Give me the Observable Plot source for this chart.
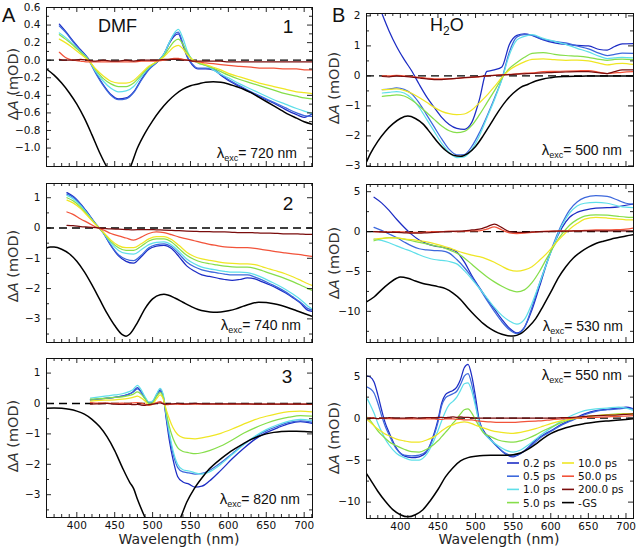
<!DOCTYPE html>
<html><head><meta charset="utf-8">
<script src="https://cdn.jsdelivr.net/npm/d3@7"></script>
<script src="https://cdn.jsdelivr.net/npm/@observablehq/plot@0.6"></script>
<style>
html,body{margin:0;padding:0;background:#fff;}
#fig{position:relative;width:637px;height:552px;overflow:hidden;background:#fff;}
.pw{position:absolute;}
#ann{position:absolute;left:0;top:0;pointer-events:none;}
</style></head><body><div id="fig"></div>
<script>
// ---------- series & styles ----------
const SERIES = ["0.2 ps","0.5 ps","1.0 ps","5.0 ps","10.0 ps","50.0 ps","200.0 ps","-GS"];
const COLORS = ["#1c2cc4","#3d68dc","#5fdfe9","#86de4a","#efe624","#f2533a","#7a0c0c","#000000"];
const X_MAJOR = [400,450,500,550,600,650,700];
const X_MINOR = [360,370,380,390,410,420,430,440,460,470,480,490,510,520,530,540,560,570,580,590,610,620,630,640,660,670,680,690,710];

// ---------- Panel A1 (DMF, 1, 720 nm) ----------
const A1_nm = [377,385,395,405,415,425,435,445,455,465,475,485,495,505,515,522,528,534,540,546,552,560,570,580,590,600,615,630,645,660,675,690,700,711];
const A1_t02 = [0.41,0.33,0.22,0.12,0.02,-0.14,-0.28,-0.39,-0.44,-0.43,-0.36,-0.22,-0.10,-0.03,0.07,0.19,0.27,0.30,0.17,0.03,-0.05,-0.10,-0.10,-0.11,-0.17,-0.23,-0.30,-0.37,-0.43,-0.49,-0.56,-0.62,-0.65,-0.61];
const A1_t05 = [0.39,0.32,0.21,0.11,0.01,-0.15,-0.29,-0.40,-0.45,-0.44,-0.37,-0.23,-0.11,-0.03,0.07,0.20,0.29,0.32,0.19,0.04,-0.04,-0.09,-0.09,-0.10,-0.16,-0.22,-0.29,-0.36,-0.42,-0.48,-0.54,-0.60,-0.63,-0.64];
const A1_t1 = [0.31,0.26,0.18,0.10,0.01,-0.13,-0.24,-0.32,-0.36,-0.35,-0.30,-0.19,-0.09,-0.02,0.07,0.20,0.30,0.35,0.25,0.10,0.01,-0.03,-0.06,-0.11,-0.16,-0.20,-0.27,-0.33,-0.39,-0.45,-0.50,-0.55,-0.58,-0.61];
const A1_t5 = [0.29,0.24,0.17,0.09,0.01,-0.11,-0.21,-0.27,-0.30,-0.30,-0.26,-0.17,-0.08,-0.02,0.05,0.14,0.21,0.24,0.18,0.08,0.01,-0.03,-0.06,-0.09,-0.13,-0.17,-0.22,-0.26,-0.30,-0.34,-0.38,-0.41,-0.43,-0.44];
const A1_t10 = [0.24,0.20,0.14,0.07,0.00,-0.10,-0.18,-0.24,-0.26,-0.26,-0.23,-0.15,-0.07,-0.02,0.04,0.10,0.15,0.17,0.13,0.06,0.01,-0.02,-0.05,-0.08,-0.11,-0.15,-0.19,-0.23,-0.27,-0.30,-0.33,-0.36,-0.37,-0.38];
const A1_t50 = [0.09,0.03,0.00,-0.01,-0.02,-0.02,-0.02,-0.02,-0.02,-0.02,-0.02,-0.01,-0.01,-0.01,0.00,0.01,0.02,0.02,0.01,0.00,-0.01,-0.02,-0.03,-0.04,-0.05,-0.06,-0.07,-0.08,-0.09,-0.09,-0.10,-0.10,-0.11,-0.11];
const A1_t200 = [0.01,0.00,0.00,0.01,0.00,-0.01,0.00,-0.01,-0.01,0.00,-0.01,0.00,0.00,0.00,0.01,0.01,0.01,0.01,0.00,0.00,-0.01,-0.01,-0.01,-0.01,-0.01,-0.02,-0.02,-0.02,-0.02,-0.02,-0.02,-0.02,-0.02,-0.02];
const A1_gsNm = [360,370,380,390,400,410,420,430,440,450,460,470,480,490,500,510,520,530,540,550,560,570,580,590,600,610,620,630,640,650,660,670,680,690,700,711];
const A1_gs = [-0.10,-0.17,-0.26,-0.37,-0.50,-0.66,-0.85,-1.05,-1.22,-1.33,-1.35,-1.23,-1.00,-0.83,-0.69,-0.57,-0.47,-0.39,-0.33,-0.29,-0.27,-0.25,-0.245,-0.25,-0.27,-0.30,-0.33,-0.37,-0.42,-0.47,-0.52,-0.57,-0.62,-0.66,-0.70,-0.73];

// ---------- Panel A2 (2, 740 nm) ----------
const A2_nm = [387,395,405,415,425,435,445,455,465,475,485,495,505,515,525,535,545,555,565,575,585,595,605,615,625,635,645,655,665,675,685,695,705,711];
const A2_t02 = [1.17,1.05,0.80,0.48,0.14,-0.16,-0.58,-0.92,-1.10,-1.16,-0.95,-0.70,-0.60,-0.57,-0.68,-0.95,-1.25,-1.42,-1.55,-1.60,-1.65,-1.70,-1.73,-1.70,-1.65,-1.68,-1.78,-1.88,-2.00,-2.14,-2.30,-2.48,-2.72,-2.75];
const A2_t05 = [1.12,1.02,0.78,0.46,0.13,-0.17,-0.57,-0.88,-1.03,-1.08,-0.90,-0.65,-0.55,-0.52,-0.62,-0.86,-1.12,-1.28,-1.38,-1.44,-1.48,-1.52,-1.55,-1.55,-1.55,-1.62,-1.72,-1.84,-1.96,-2.10,-2.27,-2.45,-2.66,-2.70];
const A2_t1 = [1.08,0.97,0.74,0.44,0.12,-0.16,-0.50,-0.74,-0.84,-0.86,-0.72,-0.55,-0.47,-0.46,-0.56,-0.78,-1.02,-1.18,-1.29,-1.35,-1.39,-1.43,-1.46,-1.46,-1.47,-1.54,-1.64,-1.76,-1.88,-2.02,-2.18,-2.36,-2.58,-2.68];
const A2_t5 = [1.00,0.90,0.69,0.41,0.12,-0.15,-0.45,-0.65,-0.74,-0.74,-0.60,-0.43,-0.36,-0.36,-0.46,-0.68,-0.90,-1.04,-1.13,-1.18,-1.22,-1.26,-1.28,-1.29,-1.29,-1.33,-1.41,-1.50,-1.58,-1.67,-1.77,-1.88,-2.00,-2.06];
const A2_t10 = [0.92,0.83,0.64,0.38,0.11,-0.14,-0.40,-0.58,-0.65,-0.65,-0.52,-0.36,-0.28,-0.28,-0.38,-0.58,-0.80,-0.94,-1.02,-1.07,-1.11,-1.15,-1.17,-1.18,-1.18,-1.21,-1.28,-1.36,-1.43,-1.51,-1.61,-1.72,-1.84,-1.90];
const A2_t50 = [0.53,0.45,0.30,0.17,0.03,-0.06,-0.18,-0.26,-0.33,-0.40,-0.30,-0.18,-0.13,-0.15,-0.22,-0.30,-0.36,-0.42,-0.48,-0.54,-0.58,-0.62,-0.64,-0.65,-0.65,-0.67,-0.71,-0.75,-0.79,-0.82,-0.85,-0.88,-0.92,-0.94];
const A2_t200 = [0.09,0.08,0.05,0.03,0.01,-0.01,-0.03,-0.04,-0.05,-0.06,-0.05,-0.05,-0.06,-0.07,-0.08,-0.09,-0.10,-0.11,-0.12,-0.12,-0.13,-0.13,-0.14,-0.15,-0.15,-0.16,-0.17,-0.17,-0.18,-0.19,-0.19,-0.20,-0.21,-0.21];
const A2_gsNm = [360,365,370,380,390,400,410,420,430,440,450,460,465,470,480,490,500,510,515,520,530,540,550,560,570,580,590,600,610,620,630,640,650,660,670,680,690,700,711];
const A2_gs = [-0.66,-0.63,-0.63,-0.70,-0.85,-1.10,-1.45,-1.88,-2.35,-2.82,-3.22,-3.52,-3.57,-3.50,-3.12,-2.66,-2.34,-2.20,-2.19,-2.21,-2.32,-2.45,-2.58,-2.69,-2.75,-2.78,-2.77,-2.73,-2.67,-2.58,-2.50,-2.45,-2.46,-2.50,-2.56,-2.64,-2.73,-2.82,-2.92];

// ---------- Panel A3 (3, 820 nm) ----------
const A3_nm = [418,430,440,450,460,468,474,480,485,490,495,500,505,510,514,518,522,527,533,540,548,556,565,575,590,605,620,635,650,665,680,695,711];
const A3_t02 = [0.12,0.15,0.18,0.20,0.24,0.30,0.38,0.52,0.38,0.18,0.02,0.05,0.28,0.45,0.25,-0.50,-1.20,-1.85,-2.40,-2.58,-2.65,-2.75,-2.72,-2.55,-2.20,-1.82,-1.48,-1.18,-0.96,-0.80,-0.66,-0.60,-0.66];
const A3_t05 = [0.12,0.15,0.18,0.20,0.24,0.30,0.37,0.48,0.36,0.18,0.03,0.06,0.26,0.40,0.22,-0.45,-1.05,-1.65,-2.10,-2.25,-2.28,-2.32,-2.30,-2.20,-1.95,-1.65,-1.35,-1.10,-0.90,-0.75,-0.62,-0.57,-0.62];
const A3_t1 = [0.18,0.22,0.25,0.28,0.32,0.38,0.45,0.60,0.45,0.22,0.05,0.08,0.30,0.50,0.30,-0.35,-0.95,-1.55,-2.00,-2.18,-2.22,-2.28,-2.32,-2.25,-2.00,-1.68,-1.36,-1.08,-0.86,-0.70,-0.58,-0.52,-0.56];
const A3_t5 = [0.14,0.16,0.18,0.20,0.22,0.26,0.30,0.38,0.30,0.15,0.00,0.02,0.22,0.36,0.20,-0.30,-0.75,-1.15,-1.45,-1.58,-1.62,-1.65,-1.62,-1.55,-1.40,-1.20,-0.98,-0.80,-0.65,-0.53,-0.45,-0.40,-0.42];
const A3_t10 = [0.08,0.10,0.11,0.12,0.14,0.17,0.20,0.24,0.18,0.08,-0.05,-0.02,0.15,0.28,0.15,-0.20,-0.50,-0.80,-1.02,-1.12,-1.15,-1.16,-1.13,-1.08,-0.98,-0.84,-0.68,-0.53,-0.42,-0.33,-0.27,-0.25,-0.28];
const A3_t50 = [0.03,0.01,0.01,0.00,0.01,0.00,0.02,0.03,0.01,-0.02,-0.05,-0.03,0.02,0.06,0.00,-0.04,-0.03,-0.02,-0.02,-0.03,-0.02,-0.02,-0.02,-0.02,-0.02,-0.02,-0.02,-0.02,-0.02,-0.02,-0.02,-0.02,-0.02];
const A3_t200 = [-0.02,-0.01,0.00,-0.02,-0.03,-0.02,-0.04,-0.03,-0.05,-0.06,-0.04,-0.02,0.00,0.02,-0.01,-0.02,-0.01,-0.01,0.00,-0.01,-0.01,0.00,-0.01,-0.01,-0.01,-0.01,-0.01,-0.02,-0.02,-0.02,-0.02,-0.02,-0.02];
const A3_gsNm = [360,370,380,390,400,410,420,430,440,450,460,470,475,480,490,500,510,520,530,537,545,555,565,575,590,600,610,620,630,640,650,660,670,680,690,700,711];
const A3_gs = [-0.16,-0.15,-0.16,-0.19,-0.25,-0.35,-0.52,-0.76,-1.10,-1.55,-2.10,-2.60,-2.80,-3.15,-3.75,-4.30,-4.60,-4.50,-4.10,-3.75,-3.25,-2.80,-2.45,-2.15,-1.82,-1.63,-1.47,-1.32,-1.18,-1.08,-1.00,-0.95,-0.92,-0.91,-0.91,-0.92,-0.94];

// ---------- Panel B1 (H2O, 500 nm) ----------
const B1_nm = [376,385,395,405,415,425,435,445,455,465,475,485,495,505,515,525,535,545,555,565,575,590,605,620,635,650,665,675,685,695,710];
const B1_t02 = [2.05,1.50,0.98,0.55,0.17,-0.28,-0.70,-1.05,-1.38,-1.62,-1.75,-1.78,-1.55,-0.80,0.15,0.20,0.30,1.05,1.35,1.40,1.35,1.20,1.10,1.05,1.02,1.00,0.88,0.86,0.98,1.07,1.08];
const B1_t05 = [-0.46,-0.44,-0.40,-0.45,-0.60,-0.90,-1.30,-1.70,-2.10,-2.45,-2.63,-2.62,-2.35,-1.90,-1.35,-0.75,-0.10,0.80,1.30,1.38,1.36,1.22,1.15,1.10,1.00,0.90,0.75,0.68,0.72,0.76,0.75];
const B1_t1 = [-0.57,-0.55,-0.52,-0.57,-0.75,-1.05,-1.45,-1.85,-2.25,-2.55,-2.72,-2.70,-2.45,-2.00,-1.40,-0.80,-0.12,0.70,1.20,1.32,1.38,1.25,1.15,1.05,0.92,0.80,0.65,0.58,0.60,0.62,0.60];
const B1_t5 = [-0.68,-0.66,-0.63,-0.67,-0.80,-1.00,-1.22,-1.45,-1.67,-1.83,-1.89,-1.85,-1.65,-1.30,-0.90,-0.50,-0.08,0.25,0.45,0.62,0.75,0.78,0.72,0.68,0.66,0.62,0.55,0.52,0.55,0.56,0.54];
const B1_t10 = [-0.46,-0.45,-0.43,-0.48,-0.58,-0.72,-0.88,-1.05,-1.18,-1.26,-1.29,-1.27,-1.14,-0.90,-0.65,-0.36,-0.05,0.20,0.35,0.47,0.55,0.57,0.54,0.52,0.53,0.50,0.42,0.37,0.40,0.42,0.38];
const B1_t50 = [0.00,0.00,0.02,0.00,-0.02,-0.05,-0.08,-0.10,-0.10,-0.10,-0.08,-0.06,-0.05,-0.03,0.00,0.02,0.04,0.05,0.07,0.09,0.10,0.14,0.15,0.16,0.17,0.18,0.12,0.08,0.10,0.12,0.14];
const B1_t200 = [-0.02,-0.03,0.00,-0.02,-0.04,-0.07,-0.10,-0.12,-0.12,-0.10,-0.08,-0.06,-0.04,-0.02,0.00,0.02,0.03,0.04,0.06,0.07,0.08,0.10,0.12,0.13,0.14,0.14,0.10,0.08,0.14,0.20,0.20];
const B1_gsNm = [355,360,370,380,390,400,410,420,430,440,450,460,470,480,490,500,510,520,530,540,550,560,570,580,590,600,610,620,640,660,680,700,710];
const B1_gs = [-2.87,-2.60,-2.18,-1.85,-1.60,-1.42,-1.34,-1.42,-1.60,-1.90,-2.22,-2.48,-2.64,-2.68,-2.58,-2.35,-2.00,-1.60,-1.20,-0.85,-0.58,-0.38,-0.28,-0.17,-0.10,-0.06,-0.03,-0.02,-0.01,0.00,0.00,0.00,0.00];

// ---------- Panel B2 (530 nm) ----------
const B2_nm = [365,375,385,395,405,415,425,435,445,455,465,475,485,495,505,515,525,535,545,555,565,575,585,595,605,615,625,635,645,660,675,690,700,710];
const B2_t02 = [4.30,3.60,2.65,1.55,0.55,-0.35,-1.05,-1.50,-1.78,-1.95,-2.15,-2.55,-3.80,-5.50,-7.00,-8.40,-9.70,-11.0,-12.1,-12.7,-12.0,-9.80,-6.90,-3.90,-1.40,0.50,1.80,2.40,2.70,2.95,3.00,3.10,3.30,3.45];
const B2_t05 = [0.52,0.15,-0.30,-0.75,-1.30,-1.80,-2.15,-2.30,-2.38,-2.42,-2.70,-3.50,-4.50,-5.70,-7.10,-8.60,-10.0,-11.3,-12.3,-12.8,-12.0,-9.50,-6.50,-3.80,-1.20,1.00,2.70,3.70,4.25,4.50,4.40,3.90,3.55,3.45];
const B2_t1 = [-0.94,-1.10,-1.40,-1.80,-2.15,-2.50,-2.90,-3.25,-3.50,-3.62,-3.75,-4.05,-4.90,-5.95,-7.10,-8.30,-9.50,-10.5,-11.2,-11.6,-11.0,-9.00,-6.50,-3.90,-1.40,0.80,2.30,3.20,3.55,3.65,3.55,3.20,3.05,3.00];
const B2_t5 = [-1.15,-0.90,-0.75,-0.80,-0.95,-1.15,-1.35,-1.55,-1.75,-1.95,-2.30,-2.70,-3.30,-4.10,-4.90,-5.65,-6.30,-6.85,-7.30,-7.55,-7.30,-6.40,-5.00,-3.30,-1.70,-0.30,0.80,1.50,1.95,2.10,2.05,1.90,1.82,1.78];
const B2_t10 = [-0.94,-0.85,-0.78,-0.80,-0.90,-1.02,-1.15,-1.30,-1.50,-1.75,-2.05,-2.40,-2.70,-2.95,-3.15,-3.45,-3.85,-4.35,-4.80,-4.95,-4.80,-4.40,-3.60,-2.70,-1.60,-0.60,0.30,1.00,1.55,1.78,1.70,1.55,1.48,1.45];
const B2_t50 = [0.00,-0.05,-0.05,0.00,-0.05,-0.10,-0.10,-0.05,0.00,0.00,0.05,0.00,0.05,0.10,0.10,0.30,0.60,0.20,-0.15,-0.25,-0.20,-0.10,0.00,0.05,0.05,0.10,0.10,0.10,0.15,0.20,0.20,0.25,0.30,0.45];
const B2_t200 = [0.00,-0.05,-0.10,-0.10,-0.15,-0.20,-0.20,-0.15,-0.10,-0.05,0.00,0.05,0.10,0.20,0.30,0.60,0.95,0.50,0.00,-0.10,-0.10,-0.05,0.00,0.00,0.05,0.05,0.05,0.10,0.10,0.10,0.10,0.10,0.10,0.10];
const B2_gsNm = [355,365,375,385,395,400,410,420,430,440,450,460,470,480,490,500,510,520,530,540,550,560,570,580,590,600,610,620,630,640,650,660,670,680,690,700,710];
const B2_gs = [-8.80,-8.20,-7.30,-6.50,-5.85,-5.70,-5.85,-6.20,-6.50,-6.70,-6.90,-7.15,-7.70,-8.50,-9.60,-10.6,-11.5,-12.2,-12.7,-13.0,-13.1,-12.8,-12.0,-10.9,-9.30,-7.60,-5.80,-4.40,-3.30,-2.55,-1.95,-1.50,-1.20,-0.95,-0.75,-0.55,-0.40];

// ---------- Panel B3 (550 nm) ----------
const B3_nm = [356,360,365,370,375,380,385,395,405,415,425,435,445,450,455,460,465,470,475,480,485,490,495,500,505,510,520,530,540,550,560,570,580,590,600,615,630,645,660,675,690,700,710];
const B3_t02 = [5.0,4.9,4.3,2.8,1.0,-0.6,-1.7,-3.6,-4.5,-4.7,-4.6,-4.0,-1.8,-0.2,1.8,2.8,3.1,3.3,3.7,4.6,6.0,6.4,5.0,2.5,-0.3,-1.4,-2.5,-3.5,-4.3,-4.6,-4.2,-3.5,-2.6,-2.0,-1.5,-0.7,-0.1,0.5,0.9,1.05,1.2,1.3,1.1];
const B3_t05 = [3.7,3.5,3.0,1.8,0.3,-1.0,-2.0,-3.7,-4.4,-4.5,-4.4,-3.9,-2.0,-0.5,1.5,2.4,2.7,2.9,3.2,4.0,5.0,5.3,4.0,1.8,-0.6,-1.6,-2.6,-3.5,-4.2,-4.5,-4.2,-3.6,-2.8,-2.1,-1.6,-0.8,-0.2,0.4,0.8,1.0,1.1,1.2,1.1];
const B3_t1 = [2.3,1.6,0.6,-0.6,-1.6,-2.5,-3.2,-4.2,-4.7,-5.0,-5.0,-4.3,-2.6,-1.5,-0.3,0.8,1.6,2.0,2.5,3.3,4.1,4.2,3.2,1.4,-0.6,-1.6,-2.6,-3.3,-3.8,-4.05,-3.8,-3.2,-2.5,-1.8,-1.2,-0.3,0.4,0.9,1.1,1.2,1.3,1.2,0.9];
const B3_t5 = [0.1,-0.3,-0.9,-1.5,-2.0,-2.4,-2.8,-3.3,-3.7,-4.0,-4.05,-3.7,-3.1,-2.7,-2.2,-1.7,-1.2,-0.6,-0.1,0.5,1.0,1.1,0.6,-0.2,-1.0,-1.7,-2.2,-2.6,-2.8,-2.86,-2.7,-2.4,-2.0,-1.5,-1.1,-0.5,-0.1,0.15,0.3,0.4,0.5,0.55,0.5];
const B3_t10 = [-0.2,-0.5,-0.9,-1.3,-1.6,-1.9,-2.1,-2.5,-2.7,-2.85,-2.85,-2.6,-2.2,-1.9,-1.5,-1.2,-0.95,-0.8,-0.6,-0.5,-0.45,-0.5,-0.65,-0.85,-1.0,-1.15,-1.45,-1.65,-1.75,-1.8,-1.7,-1.5,-1.25,-0.95,-0.65,-0.3,-0.05,0.15,0.3,0.4,0.45,0.5,0.5];
const B3_t50 = [0.0,0.05,0.0,-0.05,0.0,-0.05,-0.05,-0.1,-0.1,-0.1,-0.1,-0.1,-0.1,-0.15,-0.15,-0.1,-0.1,-0.1,-0.15,-0.15,-0.2,-0.2,-0.2,-0.3,-0.35,-0.4,-0.45,-0.5,-0.5,-0.5,-0.45,-0.4,-0.35,-0.3,-0.2,-0.1,0.0,0.05,0.1,0.15,0.2,0.25,0.3];
const B3_t200 = [-0.1,-0.05,0.0,-0.05,0.0,0.0,0.05,0.0,0.0,0.05,0.0,0.05,0.05,0.1,0.1,0.05,0.1,0.15,0.1,0.15,0.1,0.1,0.05,0.0,0.0,0.0,0.0,0.0,0.0,0.0,0.0,0.0,0.0,0.0,0.0,0.05,0.1,0.2,0.3,0.35,0.4,0.45,0.5];
const B3_gsNm = [355,360,370,380,390,400,410,420,430,440,450,460,470,480,490,500,510,520,530,540,550,560,570,580,590,600,610,620,630,645,660,680,700,710];
const B3_gs = [-6.6,-7.3,-8.7,-9.9,-10.9,-11.5,-11.75,-11.5,-10.9,-9.8,-8.5,-7.0,-5.9,-5.1,-4.7,-4.55,-4.45,-4.42,-4.42,-4.42,-4.35,-4.15,-3.7,-3.1,-2.4,-1.85,-1.45,-1.15,-0.9,-0.65,-0.45,-0.3,-0.15,-0.08];

// ---------- y tick labels ----------
const A1_yMajor = [-1.0,-0.8,-0.6,-0.4,-0.2,0.0,0.2,0.4,0.6];
const A1_yMinor = [-1.1,-0.9,-0.7,-0.5,-0.3,-0.1,0.1,0.3,0.5];
const A23_yMajor = [-3,-2,-1,0,1];
const A23_yMinor = [-3.5,-2.5,-1.5,-0.5,0.5];
const B1_yMajor = [-3,-2,-1,0,1,2];
const B1_yMinor = [-2.5,-1.5,-0.5,0.5,1.5];
const B23_yMajor = [-10,-5,0,5];
const B23_yMinor = [-12.5,-7.5,-2.5,2.5];

const fig = document.getElementById("fig");

function panel(cfg) {
  const {left, top, width, ml, mr, mt, fh, mb, xDomain, yDomain, yMajor, yMinor, yFmt, lines, bottom} = cfg;
  const fw = width - ml - mr;
  const inY = v => v >= Math.min(...yDomain) - 1e-9 && v <= Math.max(...yDomain) + 1e-9;
  const marks = [];
  marks.push(Plot.ruleY([0], {stroke: "#000", strokeWidth: 1.3, strokeDasharray: "8,5"}));
  lines.forEach(([nm, vals], i) => {
    const rows = nm.map((w, j) => ({w, v: vals[j]}));
    marks.push(Plot.line(rows, {x: "w", y: "v", stroke: COLORS[i], strokeWidth: i === 7 ? 1.5 : 1.25, curve: "monotone-x", clip: true}));
  });
  marks.push(Plot.frame({stroke: "#111", strokeWidth: 1}));
  const xmi = X_MINOR.filter(v => v >= xDomain[0] && v <= xDomain[1]);
  marks.push(Plot.tickX(xmi, {x: d => d, insetTop: fh - 3, strokeWidth: 0.9}));
  marks.push(Plot.tickX(X_MAJOR, {x: d => d, insetTop: fh - 5, strokeWidth: 0.9}));
  marks.push(Plot.tickX(xmi, {x: d => d, insetBottom: fh - 3, strokeWidth: 0.9}));
  marks.push(Plot.tickX(X_MAJOR, {x: d => d, insetBottom: fh - 5, strokeWidth: 0.9}));
  const ymj = yMajor.filter(inY), ymn = yMinor.filter(inY);
  marks.push(Plot.tickY(ymj, {y: d => d, insetRight: fw - 5, strokeWidth: 0.9}));
  marks.push(Plot.tickY(ymn, {y: d => d, insetRight: fw - 3, strokeWidth: 0.9}));
  marks.push(Plot.tickY(ymj, {y: d => d, insetLeft: fw - 5, strokeWidth: 0.9}));
  marks.push(Plot.tickY(ymn, {y: d => d, insetLeft: fw - 3, strokeWidth: 0.9}));
  marks.push(Plot.axisY(ymj, {anchor: "left", tickSize: 0, tickPadding: 6, tickFormat: yFmt, label: null, fontSize: 10.5}));
  if (bottom) marks.push(Plot.axisX(X_MAJOR, {anchor: "bottom", tickSize: 0, tickPadding: 4, label: null, fontSize: 10.5}));
  const svg = Plot.plot({
    width, height: mt + fh + mb,
    marginLeft: ml, marginRight: mr, marginTop: mt, marginBottom: mb,
    x: bottom ? {domain: xDomain} : {domain: xDomain, axis: null},
    y: {domain: yDomain},
    style: {fontFamily: "'DejaVu Sans', sans-serif", fontSize: "10.5px", background: "transparent", color: "#111", overflow: "visible"},
    marks
  });
  const wrap = document.createElement("div");
  wrap.className = "pw";
  wrap.style.left = left + "px";
  wrap.style.top = top + "px";
  wrap.appendChild(svg);
  fig.appendChild(wrap);
}

const fmt1 = d3.format(".1f"), fmt0 = d3.format("d");
const LX = [360, 711], RX = [355, 710];

panel({left: 0, top: 0, width: 318, ml: 46, mr: 6, mt: 7, fh: 159, mb: 2, xDomain: LX, yDomain: [-1.21, 0.6],
  yMajor: A1_yMajor, yMinor: A1_yMinor, yFmt: fmt1, bottom: false,
  lines: [[A1_nm, A1_t02], [A1_nm, A1_t05], [A1_nm, A1_t1], [A1_nm, A1_t5], [A1_nm, A1_t10], [A1_nm, A1_t50], [A1_nm, A1_t200], [A1_gsNm, A1_gs]]});
panel({left: 0, top: 175, width: 318, ml: 46, mr: 6, mt: 8, fh: 159, mb: 2, xDomain: LX, yDomain: [-3.78, 1.47],
  yMajor: A23_yMajor, yMinor: A23_yMinor, yFmt: fmt0, bottom: false,
  lines: [[A2_nm, A2_t02], [A2_nm, A2_t05], [A2_nm, A2_t1], [A2_nm, A2_t5], [A2_nm, A2_t10], [A2_nm, A2_t50], [A2_nm, A2_t200], [A2_gsNm, A2_gs]]});
panel({left: 0, top: 350, width: 318, ml: 46, mr: 6, mt: 8, fh: 159, mb: 35, xDomain: LX, yDomain: [-3.75, 1.48],
  yMajor: A23_yMajor, yMinor: A23_yMinor, yFmt: fmt0, bottom: true,
  lines: [[A3_nm, A3_t02], [A3_nm, A3_t05], [A3_nm, A3_t1], [A3_nm, A3_t5], [A3_nm, A3_t10], [A3_nm, A3_t50], [A3_nm, A3_t200], [A3_gsNm, A3_gs]]});
panel({left: 320, top: 0, width: 317, ml: 46, mr: 4, mt: 13, fh: 153, mb: 2, xDomain: RX, yDomain: [-3.02, 2.08],
  yMajor: B1_yMajor, yMinor: B1_yMinor, yFmt: fmt0, bottom: false,
  lines: [[B1_nm, B1_t02], [B1_nm, B1_t05], [B1_nm, B1_t1], [B1_nm, B1_t5], [B1_nm, B1_t10], [B1_nm, B1_t50], [B1_nm, B1_t200], [B1_gsNm, B1_gs]]});
panel({left: 320, top: 175, width: 317, ml: 46, mr: 4, mt: 9, fh: 158, mb: 2, xDomain: RX, yDomain: [-13.9, 5.9],
  yMajor: B23_yMajor, yMinor: B23_yMinor, yFmt: fmt0, bottom: false,
  lines: [[B2_nm, B2_t02], [B2_nm, B2_t05], [B2_nm, B2_t1], [B2_nm, B2_t5], [B2_nm, B2_t10], [B2_nm, B2_t50], [B2_nm, B2_t200], [B2_gsNm, B2_gs]]});
panel({left: 320, top: 350, width: 317, ml: 46, mr: 4, mt: 8, fh: 160, mb: 34, xDomain: RX, yDomain: [-11.95, 7.1],
  yMajor: B23_yMajor, yMinor: B23_yMinor, yFmt: fmt0, bottom: true,
  lines: [[B3_nm, B3_t02], [B3_nm, B3_t05], [B3_nm, B3_t1], [B3_nm, B3_t5], [B3_nm, B3_t10], [B3_nm, B3_t50], [B3_nm, B3_t200], [B3_gsNm, B3_gs]]});

// ---------- annotations (text + legend) ----------
const NS = "http://www.w3.org/2000/svg";
const ann = document.createElementNS(NS, "svg");
ann.setAttribute("id", "ann");
ann.setAttribute("width", 637);
ann.setAttribute("height", 552);
fig.appendChild(ann);
function txt(html, attrs) {
  const t = document.createElementNS(NS, "text");
  for (const k in attrs) t.setAttribute(k, attrs[k]);
  t.innerHTML = html;
  ann.appendChild(t);
  return t;
}
const SANS = "'Liberation Sans', Arial, sans-serif";
const DJ = "'DejaVu Sans', sans-serif";
txt("A", {x: 2, y: 22, "font-size": 20, "font-family": SANS, fill: "#111"});
txt("B", {x: 332, y: 22, "font-size": 20, "font-family": SANS, fill: "#111"});
txt("DMF", {x: 98, y: 32, "font-size": 18, "font-family": SANS, fill: "#111"});
txt('H<tspan font-size="12" dy="4">2</tspan><tspan dy="-4">O</tspan>', {x: 430, y: 31, "font-size": 18, "font-family": SANS, fill: "#111"});
txt("1", {x: 288, y: 33, "font-size": 19, "font-family": SANS, "text-anchor": "middle", fill: "#111"});
txt("2", {x: 288, y: 210, "font-size": 19, "font-family": SANS, "text-anchor": "middle", fill: "#111"});
txt("3", {x: 287, y: 383, "font-size": 19, "font-family": SANS, "text-anchor": "middle", fill: "#111"});
function lam(nm, xEnd, y) {
  txt('<tspan font-size="15">λ</tspan><tspan font-size="9" dy="3">exc</tspan><tspan dy="-3">= ' + nm + ' nm</tspan>',
    {x: xEnd, y, "font-size": 14, "font-family": SANS, "text-anchor": "end", fill: "#111"});
}
lam(720, 297, 158);
lam(740, 301, 330);
lam(820, 300, 504);
lam(500, 622, 155);
lam(530, 623, 331);
lam(550, 622, 380);
function ylab(x, yc) {
  txt('Δ<tspan font-style="italic">A</tspan> (mOD)', {transform: `translate(${x},${yc}) rotate(-90)`, "text-anchor": "middle", "font-size": 14.5, "font-family": DJ, fill: "#333"});
}
ylab(18, 84); ylab(18, 266); ylab(18, 436);
ylab(339, 88); ylab(339, 263); ylab(339, 438);
txt("Wavelength (nm)", {x: 179, y: 544, "text-anchor": "middle", "font-size": 14, "font-family": DJ, fill: "#222"});
txt("Wavelength (nm)", {x: 499, y: 544, "text-anchor": "middle", "font-size": 14, "font-family": DJ, fill: "#222"});
// legend
SERIES.forEach((s, i) => {
  const col = i < 4 ? 0 : 1, row = i % 4;
  const y = 463 + row * 13.2;
  const x0 = col ? 562 : 507;
  const l = document.createElementNS(NS, "line");
  l.setAttribute("x1", x0); l.setAttribute("x2", x0 + 12);
  l.setAttribute("y1", y); l.setAttribute("y2", y);
  l.setAttribute("stroke", COLORS[i]); l.setAttribute("stroke-width", 1.6);
  ann.appendChild(l);
  txt(s, {x: x0 + 16, y: y + 4, "font-size": 10.5, "font-family": DJ, fill: "#111"});
});
</script></body></html>
